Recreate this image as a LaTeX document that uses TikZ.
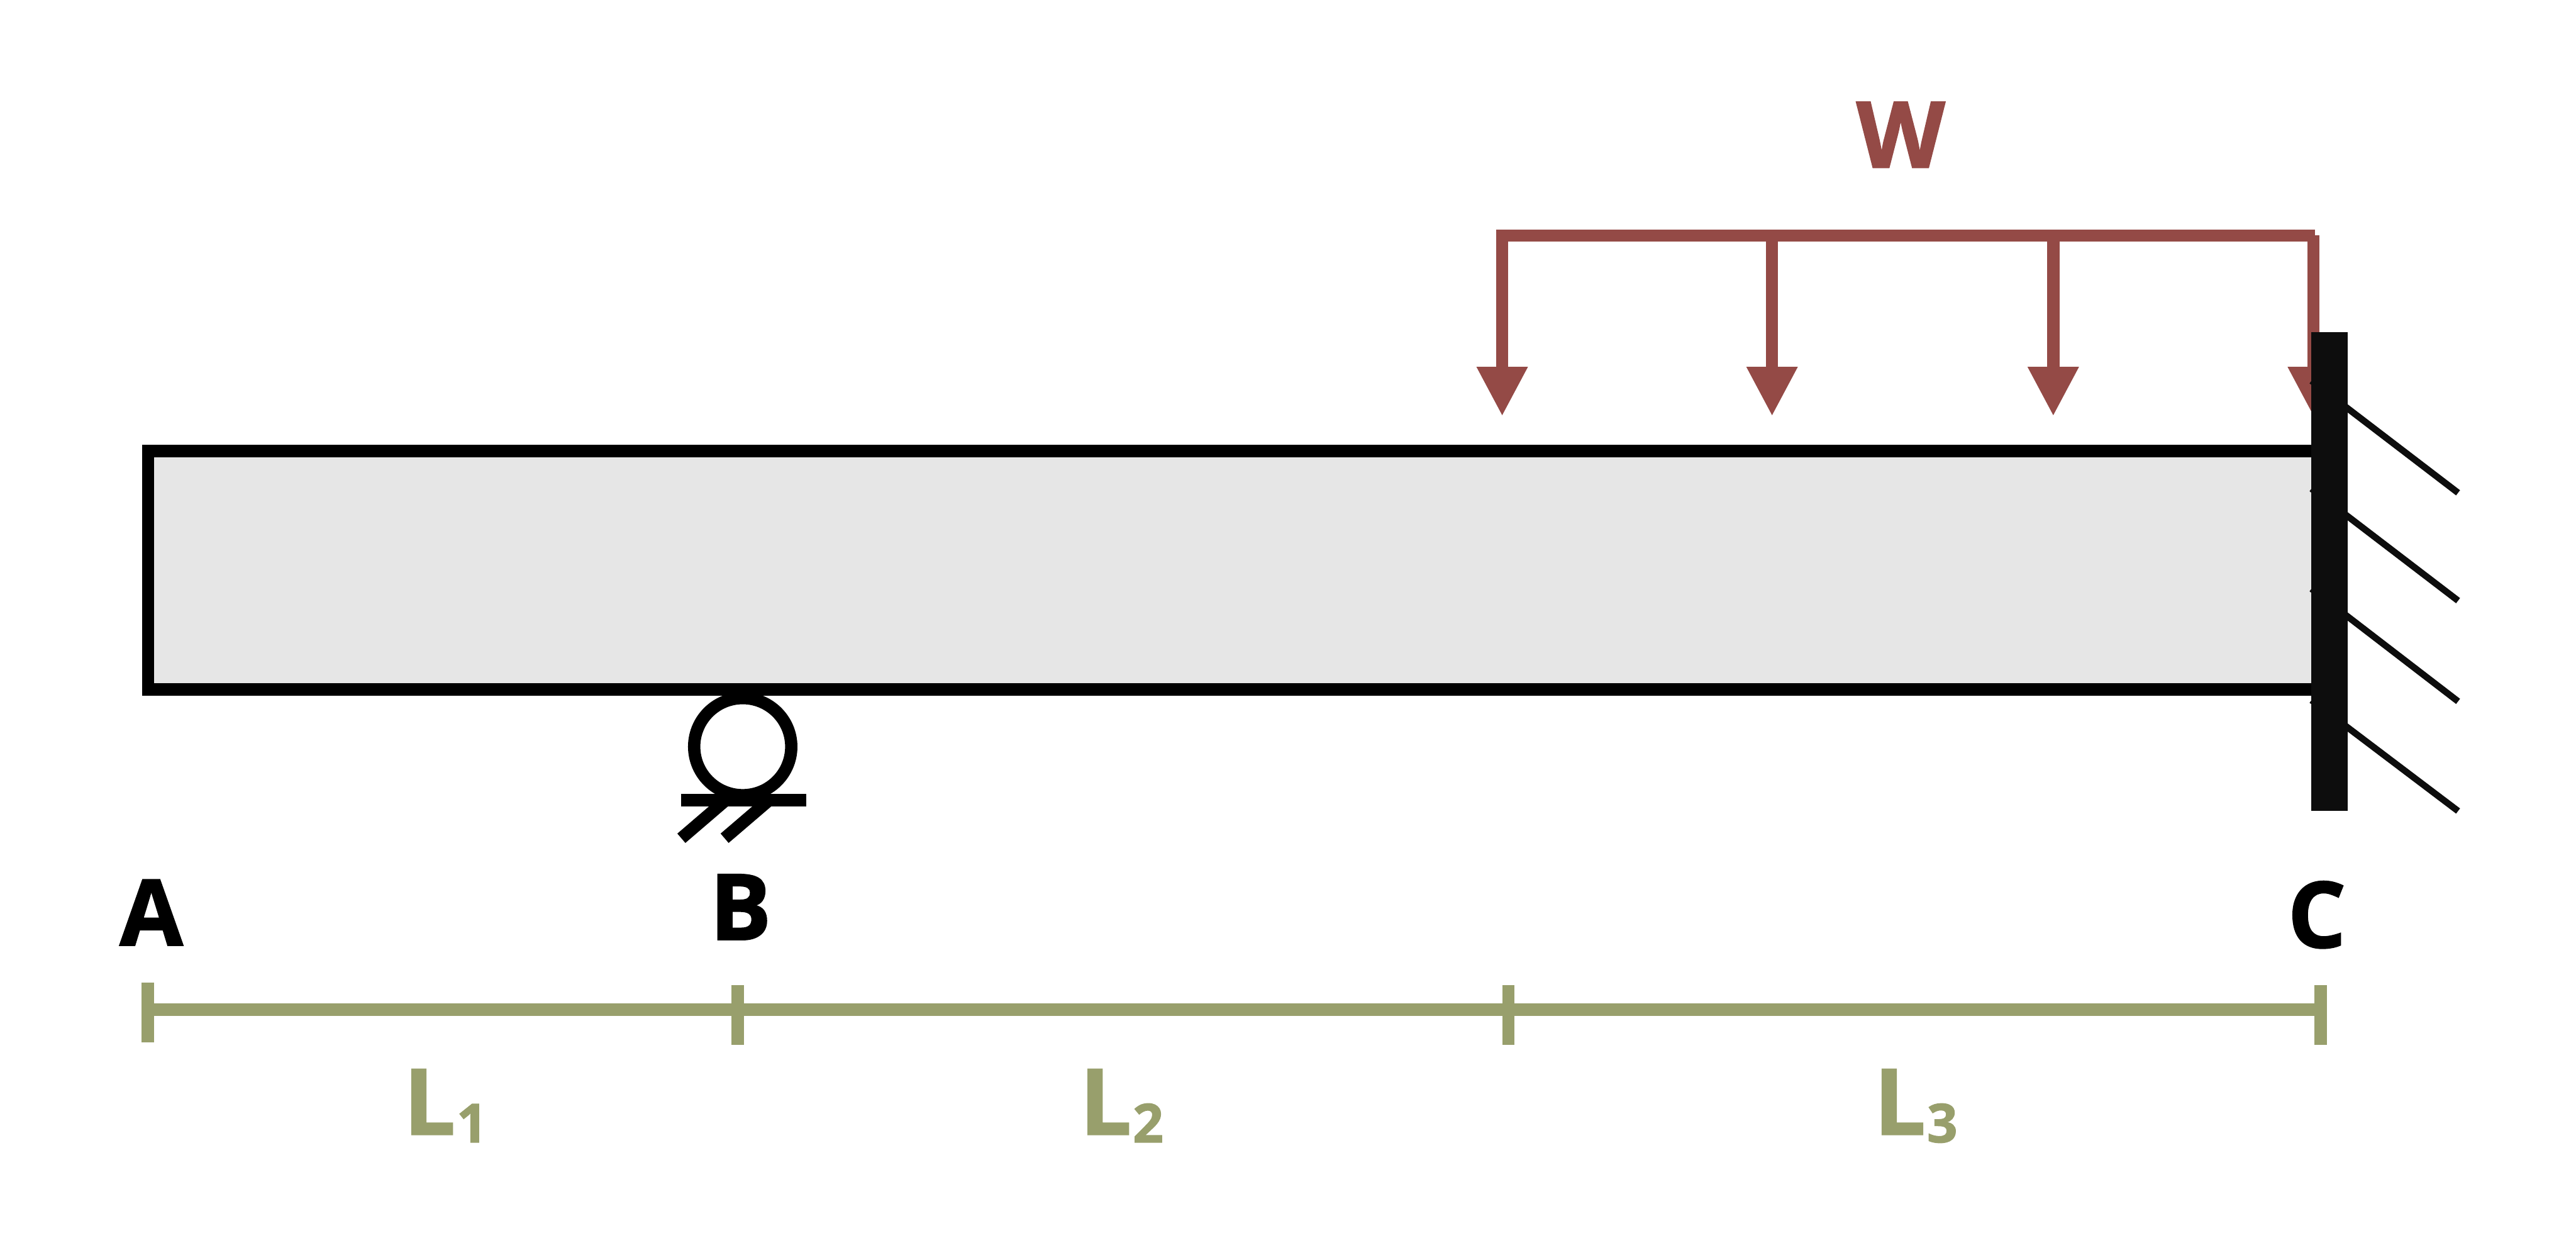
\documentclass[tikz,border=0pt]{standalone}
\usepackage{fontspec}
\setmainfont[BoldFeatures={FakeBold=1.5}]{Open Sans}
\usepackage{xcolor}
\usetikzlibrary{arrows.meta}
\definecolor{loadred}{HTML}{944A46}
\definecolor{dimgreen}{HTML}{989F6C}
\definecolor{beamgrey}{HTML}{E6E6E6}
\definecolor{wallblack}{HTML}{0D0D0D}
\tikzset{
  beamline/.style={line width=0.207cm,draw=black,fill=beamgrey},
  supportline/.style={line width=0.207cm,draw=black},
  hatchline/.style={line width=0.11cm,draw=wallblack},
  loadline/.style={line width=0.205cm,draw=loadred},
  loadarrow/.style={loadline,-{Triangle[length=0.83cm,width=0.80cm]}},
  dimline/.style={line width=0.21cm,draw=dimgreen},
  pointlabel/.style={font=\fontsize{43.7}{50}\selectfont\bfseries,inner sep=0pt,anchor=base},
  lenlabel/.style={pointlabel,text=dimgreen,anchor=base west}
}
\newcommand{\lensub}[1]{\kern0.02cm\raisebox{-0.13cm}{\fontsize{25.6}{30}\selectfont #1}}

\begin{document}
\begin{tikzpicture}
        \useasboundingbox (0,0) rectangle (43.24,20.77);

        \coordinate (beamsw) at (2.485,9.20);
        \coordinate (beamne) at (39.00,13.20);
        \coordinate (barl) at (25.11,16.815);
        \coordinate (barr) at (38.86,16.815);
        \coordinate (dimA) at (2.485,3.825);
        \coordinate (dimC) at (38.955,3.825);

        % beam and load
        \draw[beamline] (beamsw) rectangle (beamne);
        \draw[loadline] (barl) -- (barr);
        \foreach \name/\x in {s1/25.215,s2/29.745,s3/34.465,s4/38.83} {
          \coordinate (\name top) at (\x,16.82);
          \coordinate (\name tip) at (\x,13.784);
          \draw[loadarrow] (\name top) -- (\name tip);
        }
        \node[pointlabel,text=loadred] (W) at (31.905,17.96) {W};

        % fixed wall at C
        \foreach \name/\ya/\yb in {h1/14.38/12.50,h2/12.57/10.69,h3/10.89/9.00,h4/9.02/7.16} {
          \coordinate (\name a) at (38.80,\ya);
          \coordinate (\name b) at (41.26,\yb);
          \draw[hatchline] (\name a) -- (\name b);
        }
        \fill[wallblack] (38.80,7.16) rectangle (39.406,15.194);

        % roller at B
        \node[circle,draw=black,line width=0.207cm,minimum size=1.63cm,inner sep=0pt] (roller) at (12.467,8.24) {};
        \coordinate (basel) at (11.43,7.345);
        \coordinate (baser) at (13.53,7.345);
        \draw[supportline] (basel) -- (baser);
        \coordinate (foot1a) at (12.18,7.34);
        \coordinate (foot1b) at (11.437,6.703);
        \coordinate (foot2a) at (12.907,7.34);
        \coordinate (foot2b) at (12.163,6.703);
        \draw[supportline] (foot1a) -- (foot1b);
        \draw[supportline] (foot2a) -- (foot2b);

        \node[pointlabel] (A) at (2.54,4.905) {A};
        \node[pointlabel] (B) at (12.43,5.00) {B};
        \node[pointlabel] (C) at (38.89,4.87) {C};

        % dimension line
        \draw[dimline] (dimA) -- (dimC);
        \foreach \name/\x/\ya/\yb in {t1/2.485/4.28/3.28,t2/12.385/4.24/3.24,t3/25.32/4.24/3.24,t4/38.955/4.24/3.24} {
          \coordinate (\name a) at (\x,\ya);
          \coordinate (\name b) at (\x,\yb);
          \draw[dimline] (\name a) -- (\name b);
        }
        \node[lenlabel] (L1) at (6.77,1.73) {L\lensub{1}};
        \node[lenlabel] (L2) at (18.12,1.73) {L\lensub{2}};
        \node[lenlabel] (L3) at (31.45,1.73) {L\lensub{3}};
      \end{tikzpicture}
\end{document}
